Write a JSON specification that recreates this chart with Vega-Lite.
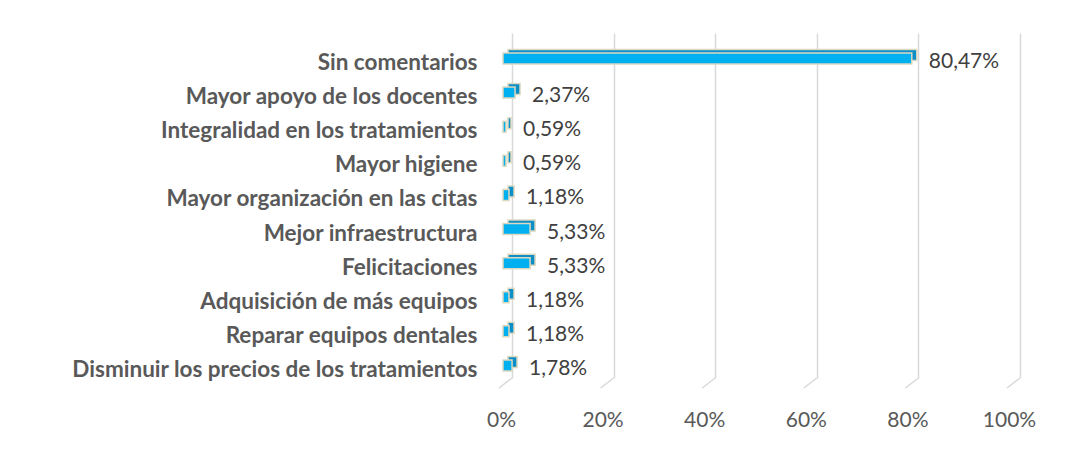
{
  "$schema": "https://vega.github.io/schema/vega-lite/v6.json",
  "autosize": "none",
  "width": 508,
  "height": 345,
  "padding": {"left": 512, "top": 33, "right": 52, "bottom": 83},
  "background": "white",
  "config": {"view": {"stroke": null}, "font": "Lato"},
  "datasets": {
    "bars": [
      {"categoria": "Sin comentarios", "valor": 80.47, "etiqueta": "80,47%"},
      {"categoria": "Mayor apoyo de los docentes", "valor": 2.37, "etiqueta": "2,37%"},
      {"categoria": "Integralidad en los tratamientos", "valor": 0.59, "etiqueta": "0,59%"},
      {"categoria": "Mayor higiene", "valor": 0.59, "etiqueta": "0,59%"},
      {"categoria": "Mayor organización en las citas", "valor": 1.18, "etiqueta": "1,18%"},
      {"categoria": "Mejor infraestructura", "valor": 5.33, "etiqueta": "5,33%"},
      {"categoria": "Felicitaciones", "valor": 5.33, "etiqueta": "5,33%"},
      {"categoria": "Adquisición de más equipos", "valor": 1.18, "etiqueta": "1,18%"},
      {"categoria": "Reparar equipos dentales", "valor": 1.18, "etiqueta": "1,18%"},
      {"categoria": "Disminuir los precios de los tratamientos", "valor": 1.78, "etiqueta": "1,78%"}
    ],
    "grid": [{"v": 0}, {"v": 20}, {"v": 40}, {"v": 60}, {"v": 80}, {"v": 100}]
  },
  "layer": [
    {
      "data": {"name": "grid"},
      "mark": {"type": "rule", "color": "#d9d9d9", "strokeWidth": 1.5, "x2Offset": -13, "y2Offset": 10},
      "encoding": {
        "x": {"field": "v", "type": "quantitative", "scale": {"domain": [0, 100]},
          "axis": {"values": [0, 20, 40, 60, 80, 100], "labelExpr": "datum.value + '%'", "grid": true, "gridColor": "#d9d9d9", "gridWidth": 1.5, "domain": false, "ticks": false, "labelFlush": false, "labelOffset": -11, "labelPadding": 31, "labelFontSize": 21, "labelColor": "#595959", "labelFont": "Lato", "title": null}},
        "x2": {"field": "v"},
        "y": {"value": "height"},
        "y2": {"value": "height"}
      }
    },
    {
      "data": {"name": "bars"},
      "encoding": {
        "y": {"field": "categoria", "type": "nominal", "sort": null,
          "scale": {"paddingInner": 0.6, "paddingOuter": 0.357, "align": 0.909},
          "axis": {"title": null, "domain": false, "ticks": false, "labelPadding": 35, "labelFontSize": 22.5, "labelFontWeight": "bold", "labelColor": "#595959", "labelFont": "Lato", "labelLimit": 500, "labelOffset": 1}},
        "x": {"field": "valor", "type": "quantitative", "scale": {"domain": [0, 100]}}
      },
      "layer": [
        {"mark": {"type": "bar", "size": 11, "xOffset": -4, "yOffset": -7, "fill": "#0b8fc6", "stroke": "#ddd8c0", "strokeWidth": 1.5}},
        {"mark": {"type": "bar", "size": 11, "xOffset": -9, "yOffset": -3.5, "fill": "#00b0f0", "stroke": "#ddd8c0", "strokeWidth": 1.5}},
        {"mark": {"type": "text", "align": "left", "baseline": "middle", "dx": 8, "fontSize": 21, "color": "#404040", "font": "Lato"},
          "encoding": {"text": {"field": "etiqueta"}}}
      ]
    }
  ]
}
